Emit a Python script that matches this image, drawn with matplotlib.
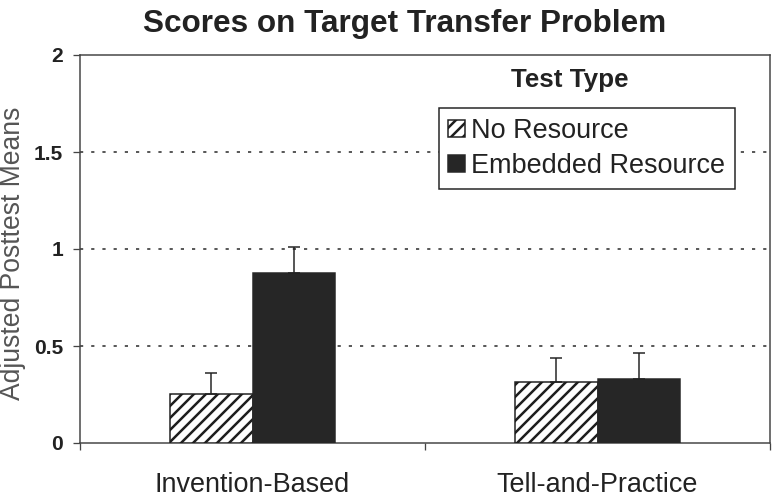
import numpy as np
import matplotlib
matplotlib.use("Agg")
import matplotlib.pyplot as plt

plt.rcParams['font.family'] = ['Liberation Sans', 'DejaVu Sans']
plt.rcParams['hatch.linewidth'] = 2.5
plt.rcParams['hatch.color'] = '#1e1e1e'

# data
groups = ["Invention-Based", "Tell-and-Practice"]
series = ["No Resource", "Embedded Resource"]
no_resource = [0.253, 0.316]
no_resource_err = [0.11, 0.12]
embedded = [0.878, 0.328]
embedded_err = [0.13, 0.137]

# dpi 72 so one point is one pixel
fig = plt.figure(figsize=(774 / 72, 497 / 72), dpi=72)
ax = fig.add_axes([80 / 774, 54 / 497, 690 / 774, 388 / 497])

x = np.arange(len(groups))
w = 0.24
dark = '#262626'

ax.bar(x - w / 2, no_resource, w, color='white', edgecolor='#1e1e1e',
       hatch='//', linewidth=1.5, zorder=3, label=series[0])
ax.bar(x + w / 2, embedded, w, color=dark, edgecolor=dark,
       linewidth=1.5, zorder=3, label=series[1])

ax.errorbar(x - w / 2, no_resource, yerr=[np.zeros(len(x)), no_resource_err],
            fmt='none', ecolor='#222222', elinewidth=1.5, capsize=6, capthick=1.5, zorder=4)
ax.errorbar(x + w / 2, embedded, yerr=[np.zeros(len(x)), embedded_err],
            fmt='none', ecolor='#222222', elinewidth=1.5, capsize=6, capthick=1.5, zorder=4)

ax.set_xlim(-0.5, 1.5)
ax.set_ylim(0, 2)

for yv in [0.5, 1.0, 1.5]:
    ax.axhline(yv, color='#333333', linewidth=1.6, dashes=(2, 5), zorder=1)

ax.set_yticks([0, 0.5, 1, 1.5, 2])
ax.set_yticklabels(['0', '0.5', '1', '1.5', '2'], fontsize=21, fontweight='bold', color='#222222')
ax.set_xticks(x)
ax.set_xticklabels(groups, fontsize=27, color='#222222')
ax.set_xticks([-0.5, 0.5, 1.5], minor=True)
ax.tick_params(axis='x', which='major', length=0, pad=29)
ax.tick_params(axis='x', which='minor', length=7, width=1.3, color='#444444')
ax.tick_params(axis='y', length=7, width=1.3, color='#444444', pad=10)

for s in ax.spines.values():
    s.set_linewidth(1.5)
    s.set_color('#444444')

ax.set_ylabel("Adjusted Posttest Means", fontsize=26.5, color='#555555')
ax.yaxis.set_label_coords(-0.078, 0.49)

fig.text(0.5226, 1 - 32 / 497, "Scores on Target Transfer Problem", ha='center',
         va='baseline', fontsize=31.5, fontweight='bold', color='#222222')

leg = ax.legend(loc='upper right', bbox_to_anchor=(0.949, 0.863), borderaxespad=0,
                fontsize=27, frameon=True, fancybox=False, handlelength=0.6,
                handleheight=0.6, handletextpad=0.25, labelspacing=0.35,
                borderpad=0.35)
leg.get_frame().set_edgecolor('#222222')
leg.get_frame().set_linewidth(1.5)
leg.get_frame().set_alpha(1)
for t in leg.get_texts():
    t.set_color('#222222')

ax.text(0.71, 0.935, "Test Type", transform=ax.transAxes, ha='center', va='center',
        fontsize=26, fontweight='bold', color='#222222')

fig.savefig("out.png", dpi=72)
